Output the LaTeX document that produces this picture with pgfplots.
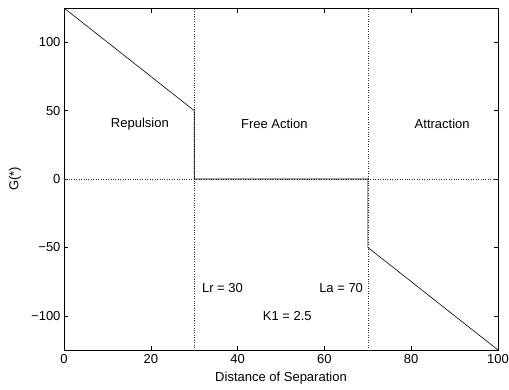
\documentclass[border=0pt]{standalone}
\usepackage{pgfplots}
\pgfplotsset{compat=1.18}
\usepackage{fontspec}
\setmainfont{Liberation Sans}
\begin{document}
\begin{tikzpicture}
\path[use as bounding box] (-64pt,-39pt) rectangle (445pt,350pt);
\begin{axis}[
  scale only axis,
  width=434pt, height=342pt,
  anchor=south west, at={(0pt,0pt)},
  xmin=0, xmax=100, ymin=-125, ymax=125,
  xtick={0,20,40,60,80,100},
  ytick={-100,-50,0,50,100},
  yticklabels={−100,−50,0,50,100},
  /pgf/number format/assume math mode=true,
  tick align=inside,
  major tick length=4.5pt,
  axis line style={line width=0.7pt},
  tick style={line width=0.5pt, black},
  tick label style={font=\fontsize{13}{15}\selectfont},
  xticklabel style={yshift=-1pt},
  label style={font=\fontsize{13}{15}\selectfont},
  xlabel={Distance of Separation},
  ylabel={G(*)},
  xlabel style={at={(axis description cs:0.5,0)}, anchor=center, yshift=-28pt},
  ylabel style={at={(axis description cs:0,0.5)}, anchor=center, yshift=49pt},
  clip=false,
]
\addplot[black!80, dotted, line width=0.45pt, forget plot] coordinates {(30,-125) (30,125)};
\addplot[black!80, dotted, line width=0.45pt, forget plot] coordinates {(70,-125) (70,125)};
\addplot[black!80, dotted, line width=0.45pt, forget plot] coordinates {(0,0) (100,0)};
\addplot[black, line width=0.6pt] coordinates {
(0,125) (30,50) (30,0) (70,0) (70,-50) (100,-125)
};
\node[anchor=west, font=\fontsize{13}{15}\selectfont] at (axis cs:10,40) {Repulsion};
\node[anchor=west, font=\fontsize{13}{15}\selectfont] at (axis cs:40,40) {Free Action};
\node[anchor=west, font=\fontsize{13}{15}\selectfont] at (axis cs:80,40) {Attraction};
\node[anchor=west, font=\fontsize{13}{15}\selectfont] at (axis cs:31,-80) {Lr = 30};
\node[anchor=west, font=\fontsize{13}{15}\selectfont] at (axis cs:58,-80) {La = 70};
\node[anchor=west, font=\fontsize{13}{15}\selectfont] at (axis cs:45,-100) {K1 = 2.5};
\end{axis}
\end{tikzpicture}
\end{document}
